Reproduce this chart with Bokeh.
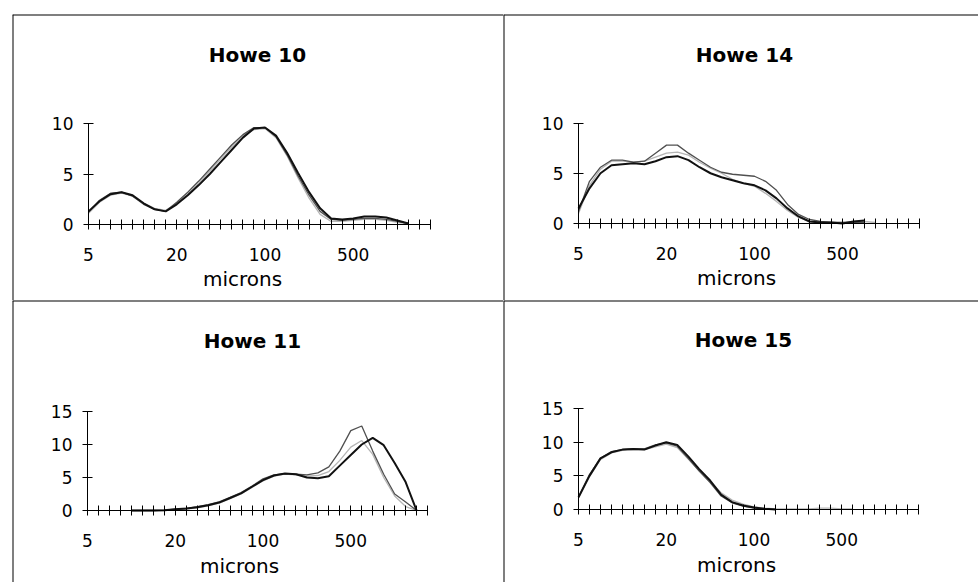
import numpy as np
from bokeh.plotting import figure
from bokeh.models import Range1d, FixedTicker, Span, Label, Spacer
from bokeh.layouts import column, row
from bokeh.embed import file_html
from bokeh.resources import INLINE

N = np.nan

# ---------------- data ----------------
idx = list(range(32))                      # size classes (category positions)
tick_pos = [0, 8, 16, 24]
tick_text = ["5", "20", "100", "500"]
x_title = "microns"

titles = ["Howe 10", "Howe 14", "Howe 11", "Howe 15"]

h10_a = [1.3, 2.3, 3.0, 3.2, 2.9, 2.1, 1.5, 1.3, 2.0, 2.9, 3.9, 5.0, 6.2, 7.4, 8.6, 9.5,
         9.6, 8.8, 7.1, 5.1, 3.2, 1.6, 0.6, 0.5, 0.6, 0.8, 0.8, 0.7, 0.4, 0.1, N, N]
h10_b = [1.2, 2.4, 3.1, 3.2, 2.8, 2.0, 1.5, 1.3, 2.2, 3.2, 4.3, 5.5, 6.7, 7.9, 8.9, 9.6,
         9.6, 8.7, 6.9, 4.8, 2.9, 1.3, 0.5, 0.4, 0.5, 0.6, 0.6, 0.5, 0.3, 0.1, N, N]
h10_c = [1.1, 2.2, 2.9, 3.1, 2.8, 2.1, 1.6, 1.4, 2.1, 3.0, 4.1, 5.3, 6.5, 7.7, 8.8, 9.4,
         9.5, 8.6, 6.8, 4.6, 2.6, 1.0, 0.3, 0.3, 0.4, 0.5, 0.5, 0.4, 0.2, 0.1, N, N]

h14_a = [1.5, 3.5, 5.0, 5.8, 5.9, 6.0, 5.9, 6.2, 6.6, 6.7, 6.3, 5.6, 5.0, 4.6, 4.3, 4.0,
         3.8, 3.3, 2.5, 1.5, 0.7, 0.2, 0.1, 0.1, 0.0, 0.2, 0.3, N, N, N, N, N]
h14_b = [1.2, 4.2, 5.6, 6.3, 6.3, 6.1, 6.2, 7.0, 7.8, 7.8, 7.0, 6.3, 5.6, 5.1, 4.9, 4.8,
         4.7, 4.2, 3.3, 1.9, 0.9, 0.4, 0.2, 0.1, 0.1, 0.1, 0.1, N, N, N, N, N]
h14_c = [1.0, 3.8, 5.4, 6.2, 6.2, 6.1, 6.2, 6.6, 7.0, 7.1, 6.8, 6.1, 5.5, 5.0, 4.4, 4.0,
         3.7, 3.0, 2.2, 1.3, 0.6, 0.2, 0.1, 0.1, 0.1, 0.2, 0.2, 0.1, N, N, N, N]

h11_a = [N, N, N, N, 0.0, 0.0, 0.0, 0.05, 0.2, 0.3, 0.5, 0.8, 1.2, 1.9, 2.6, 3.6,
         4.6, 5.3, 5.6, 5.5, 5.0, 4.9, 5.2, 6.8, 8.4, 10.0, 11.0, 9.9, 7.2, 4.3, 0.0, N]
h11_b = [N, N, N, N, 0.0, 0.0, 0.0, 0.05, 0.2, 0.3, 0.6, 0.9, 1.3, 2.0, 2.7, 3.7,
         4.8, 5.4, 5.6, 5.5, 5.4, 5.7, 6.6, 9.0, 12.1, 12.8, 9.0, 5.5, 2.5, 1.3, 0.0, N]
h11_c = [N, N, N, N, 0.0, 0.0, 0.0, 0.0, 0.1, 0.2, 0.4, 0.7, 1.1, 1.8, 2.5, 3.5,
         4.5, 5.2, 5.5, 5.4, 5.2, 5.3, 5.9, 7.6, 9.6, 10.6, 8.5, 5.0, 2.2, 0.6, 0.0, N]

h15_a = [1.8, 5.0, 7.6, 8.5, 8.9, 9.0, 8.9, 9.5, 10.0, 9.6, 7.9, 6.0, 4.3, 2.2, 1.1, 0.6,
         0.3, 0.1, 0.0, N, N, N, N, N, N, N, N, N, N, N, N, N]
h15_b = [1.9, 5.2, 7.6, 8.6, 8.9, 9.0, 9.0, 9.6, 9.9, 9.4, 7.6, 5.7, 4.0, 2.0, 1.0, 0.5,
         0.2, 0.1, 0.0, N, N, N, N, N, N, N, N, N, N, N, N, N]
h15_c = [1.7, 4.9, 7.4, 8.4, 8.8, 8.9, 8.9, 9.3, 9.7, 9.2, 7.5, 5.8, 4.2, 2.5, 1.4, 0.8,
         0.4, 0.2, 0.1, 0.1, 0.1, 0.1, 0.2, 0.2, 0.1, 0.1, N, N, N, N, N, N]

yticks_top = [0, 5, 10]
yticks_bottom = [0, 5, 10, 15]

# ---------------- styling / layout ----------------
FONT = "DejaVu Sans"
COLORS = ["#111111", "#505050", "#b5b5b5"]
WIDTHS = [2.0, 1.3, 1.3]

LEFT_X, MID_X, TOP_Y, MID_Y = 12, 503, 14, 300
W_L, W_R, H_T, H_B = 491, 475, 286, 282


def panel(title, series, yticks, left, top, w, h, ox, oy, xpx, ypx, title_pos, label_pos):
    xs = -(ox - left) / xpx
    xe = xs + w / xpx
    ye = (oy - top) / ypx
    ys = ye - h / ypx
    p = figure(width=w, height=h, x_range=Range1d(xs, xe), y_range=Range1d(ys, ye),
               output_backend="svg", toolbar_location=None, min_border=0,
               outline_line_color=None, background_fill_color="white",
               border_fill_color="white")
    p.grid.visible = False

    for s, c, lw in reversed(list(zip(series, COLORS, WIDTHS))):
        p.line(idx, np.array(s, dtype=float), line_color=c, line_width=lw)

    xa = p.xaxis[0]
    xa.fixed_location = 0
    xa.bounds = (idx[0], idx[-1])
    xa.ticker = FixedTicker(ticks=idx)
    overrides = {i: "" for i in idx}
    for tp, tt in zip(tick_pos, tick_text):
        overrides[tp] = tt
    xa.major_label_overrides = overrides
    xa.major_tick_in = 5
    xa.major_tick_out = 5
    xa.minor_tick_line_color = None
    xa.major_label_standoff = 18

    ya = p.yaxis[0]
    ya.fixed_location = 0
    ya.bounds = (yticks[0], yticks[-1])
    ya.ticker = FixedTicker(ticks=yticks)
    ya.major_tick_in = 5
    ya.major_tick_out = 5
    ya.minor_tick_line_color = None
    ya.major_label_standoff = 10

    for ax in (xa, ya):
        ax.axis_line_color = "black"
        ax.axis_line_width = 1
        ax.major_tick_line_color = "black"
        ax.major_label_text_font = FONT
        ax.major_label_text_font_size = "17px"
        ax.major_label_text_color = "black"

    def to_data(px, py):
        return xs + (px - left) / xpx, ye - (py - top) / ypx

    tx, ty = to_data(*title_pos)
    p.add_layout(Label(x=tx, y=ty, text=title, text_align="center",
                       text_baseline="alphabetic", text_font=FONT,
                       text_font_style="bold", text_font_size="20px",
                       text_color="black"))
    lx, ly = to_data(*label_pos)
    p.add_layout(Label(x=lx, y=ly, text=x_title, text_align="center",
                       text_baseline="alphabetic", text_font=FONT,
                       text_font_size="20px", text_color="black"))

    p.add_layout(Span(location=xs, dimension="height", line_color="black", line_width=2))
    p.add_layout(Span(location=ye, dimension="width", line_color="black", line_width=2))
    return p


p_tl = panel(titles[0], [h10_a, h10_b, h10_c], yticks_top, LEFT_X, TOP_Y, W_L, H_T,
             88, 224, 11.03, 10.1, (257, 54), (242, 278))
p_tr = panel(titles[1], [h14_a, h14_b, h14_c], yticks_top, MID_X, TOP_Y, W_R, H_T,
             578, 223, 11.0, 10.05, (744, 54), (736, 277))
p_bl = panel(titles[2], [h11_a, h11_b, h11_c], yticks_bottom, LEFT_X, MID_Y, W_L, H_B,
             87, 510, 10.97, 6.6, (252, 340), (239, 565))
p_br = panel(titles[3], [h15_a, h15_b, h15_c], yticks_bottom, MID_X, MID_Y, W_R, H_B,
             578, 509, 10.97, 6.73, (743, 339), (736, 564))

grid = column(row(p_tl, p_tr), row(p_bl, p_br))
layout = column(Spacer(width=978, height=TOP_Y),
                row(Spacer(width=LEFT_X, height=H_T + H_B), grid))

open("out.html", "w").write(file_html(layout, INLINE))
